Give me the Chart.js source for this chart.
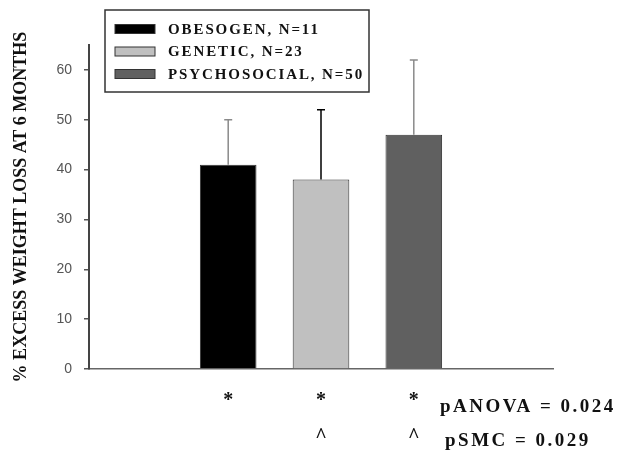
<!DOCTYPE html>
<html>
<head>
<meta charset="utf-8">
<script src="https://cdn.jsdelivr.net/npm/chart.js@4/dist/chart.umd.min.js"></script>
<style>
  html, body { margin: 0; padding: 0; background: #fff; }
  #wrap { width: 628px; height: 450px; }
</style>
</head>
<body>
<div id="wrap"><canvas id="grafico" width="628" height="450"></canvas></div>
<script>
// dados
const categorias = ["", "OBESOGEN", "GENETIC", "PSYCHOSOCIAL", ""];
const rotulosX = [[""], ["*", ""], ["*", "^"], ["*", "^"], [""]];
const nomesSerie = ["OBESOGEN, N=11", "GENETIC, N=23", "PSYCHOSOCIAL, N=50"];
const medias = [41, 38, 47];
const desvios = [9, 14, 15];
const coresBarra = ["#000000", "#c0c0c0", "#606060"];
const coresErro = ["#8a8a8a", "#000000", "#8a8a8a"];
const ticksY = [0, 10, 20, 30, 40, 50, 60];
const tituloY = "% EXCESS WEIGHT LOSS AT 6 MONTHS";
const notas = ["pANOVA = 0.024", "pSMC = 0.029"];

const serif = "'Liberation Serif', 'Times New Roman', serif";

// cada grupo vira um dataset com valor só na sua categoria
const datasets = nomesSerie.map((nome, i) => {
    const data = categorias.map(() => null);
    data[i + 1] = medias[i];
    return {
        label: nome,
        data: data,
        backgroundColor: coresBarra[i],
        borderColor: "#333",
        borderWidth: 1,
        barPercentage: 0.61,
        categoryPercentage: 1,
        grouped: false
    };
});

// ----------------- BARRAS DE ERRO -----------------
const barrasErro = {
    id: "barrasErro",
    afterDatasetsDraw(chart) {
        const ctx = chart.ctx;
        const y = chart.scales.y;
        chart.data.datasets.forEach((ds, i) => {
            const meta = chart.getDatasetMeta(i);
            meta.data.forEach((bar, j) => {
                const v = ds.data[j];
                if (v === null) return;
                const topo = y.getPixelForValue(v + desvios[i]);
                ctx.save();
                ctx.strokeStyle = coresErro[i];
                ctx.lineWidth = 1.5;
                ctx.beginPath();
                ctx.moveTo(bar.x, bar.y);
                ctx.lineTo(bar.x, topo);
                ctx.moveTo(bar.x - 4, topo);
                ctx.lineTo(bar.x + 4, topo);
                ctx.stroke();
                ctx.restore();
            });
        });
    }
};

// ----------------- LEGENDA COM MOLDURA -----------------
const legendaCaixa = {
    id: "legendaCaixa",
    afterDraw(chart) {
        const ctx = chart.ctx;
        ctx.save();
        ctx.strokeStyle = "#333";
        ctx.lineWidth = 1.5;
        ctx.strokeRect(105, 10, 264, 82);
        ctx.font = "bold 15px " + serif;
        ctx.letterSpacing = "1.9px";
        ctx.textBaseline = "middle";
        chart.data.datasets.forEach((ds, i) => {
            const yc = 29 + i * 22.5;
            ctx.fillStyle = ds.backgroundColor;
            ctx.fillRect(115, yc - 4.5, 40, 9);
            ctx.strokeStyle = "#333";
            ctx.lineWidth = 1;
            ctx.strokeRect(115, yc - 4.5, 40, 9);
            ctx.fillStyle = "#111";
            ctx.fillText(ds.label, 168, yc + 1);
        });
        ctx.restore();
    }
};

// ----------------- NOTAS DE SIGNIFICÂNCIA -----------------
const notasP = {
    id: "notasP",
    afterDraw(chart) {
        const ctx = chart.ctx;
        ctx.save();
        ctx.fillStyle = "#111";
        ctx.font = "bold 19px " + serif;
        ctx.letterSpacing = "2.5px";
        ctx.textBaseline = "alphabetic";
        ctx.fillText(notas[0], 440, 412);
        ctx.fillText(notas[1], 445, 446);
        ctx.restore();
    }
};

new Chart(document.getElementById("grafico"), {
    type: "bar",
    data: { labels: categorias, datasets: datasets },
    plugins: [barrasErro, legendaCaixa, notasP],
    options: {
        responsive: false,
        devicePixelRatio: 1,
        animation: false,
        layout: { padding: { top: 45, right: 75, left: 8, bottom: 0 } },
        plugins: { legend: { display: false }, tooltip: { enabled: false } },
        scales: {
            x: {
                grid: { display: false },
                border: { display: true, color: "#666", width: 1.5 },
                ticks: {
                    color: "#111",
                    font: { family: serif, size: 20, weight: "bold", lineHeight: 1.8 },
                    padding: 6,
                    maxRotation: 0,
                    autoSkip: false,
                    callback: (val, i) => rotulosX[i]
                },
                afterFit: s => { s.height = 81; }
            },
            y: {
                min: 0,
                max: 65,
                afterBuildTicks: s => { s.ticks = ticksY.map(v => ({ value: v })); },
                grid: { display: true, drawOnChartArea: false, drawTicks: true, tickLength: 5, color: "#555", lineWidth: 1.5 },
                border: { display: true, color: "#444", width: 2 },
                ticks: {
                    color: "#555",
                    font: { family: "'Liberation Sans', Arial, sans-serif", size: 14 },
                    padding: 12
                },
                title: {
                    display: true,
                    text: tituloY,
                    color: "#111",
                    font: { family: serif, size: 18, weight: "bold" },
                    padding: { top: 3, bottom: 0 }
                },
                afterFit: s => { s.width = 81; }
            }
        }
    }
});
</script>
</body>
</html>
